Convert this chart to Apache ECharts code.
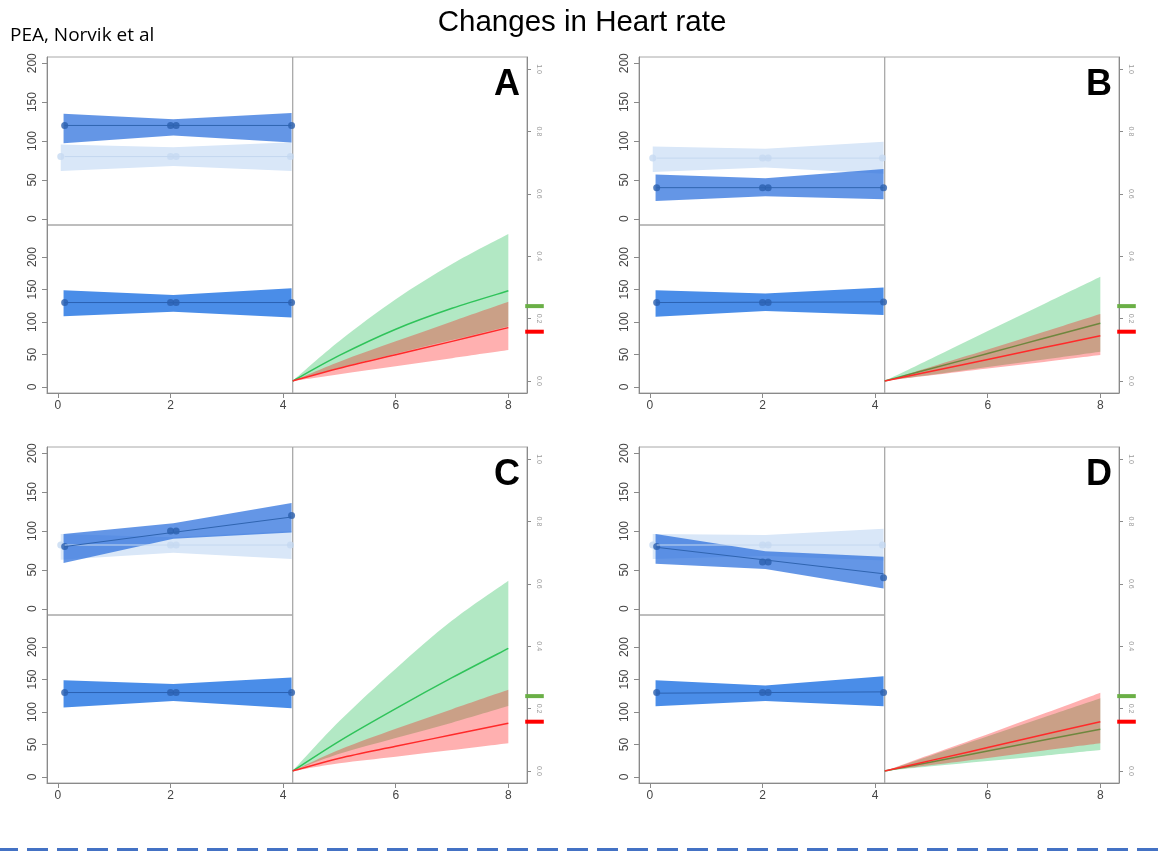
<!DOCTYPE html>
<html><head><meta charset="utf-8">
<script src="https://cdn.jsdelivr.net/npm/echarts@6/dist/echarts.min.js"></script>
<style>html,body{margin:0;padding:0;background:#fff}#c{width:1161px;height:852px}</style>
</head><body><div id="c"></div>
<script>
// ---------------- DATA ----------------
const panelLabels = ['A', 'B', 'C', 'D'];
const bottomXTicksLeft = [0, 2, 4];
const bottomXTicksRight = [6, 8];
const leftYTicks = [0, 50, 100, 150, 200];
const rightYTicks = [0, 0.2, 0.4, 0.6, 0.8, 1.0];

// left sub-panels: band vertices (left, middle, right), dots and fitted lines
const darkBandX = [0.1, 2.05, 4.15];
const lightBandX = [0.05, 2.05, 4.15];
const darkDotX = [0.12, 2.0, 2.1, 4.15];
const lightDotX = [0.05, 2.0, 2.1, 4.13];
const lineX = [0.12, 4.15];

const topDarkUpper = [[135, 128, 136], [57, 52, 64], [96, 110, 136], [96, 74, 67]];
const topDarkLower = [[97, 107, 98], [23, 29, 25], [59, 90, 98], [58, 51, 26]];
const topDarkLine = [[120, 120], [40, 40], [80, 118], [79, 45]];
const topDarkDots = [[120, 120, 120, 120], [40, 40, 40, 40], [80, 100, 100, 120], [80, 60, 60, 40]];

const topLightUpper = [[95.5, 92, 98.5], [93, 90, 99], [96, 92, 100], [96, 95, 103]];
const topLightLower = [[61.5, 68, 61.5], [60, 66, 58], [63, 72, 64], [64, 68, 62]];
const topLightLine = [[80, 80], [78, 78], [82, 82], [82, 82]];
const topLightDots = [[80, 80, 80, 80], [78, 78, 78, 78], [82, 82, 82, 82], [82, 82, 82, 82]];

const bottomUpper = [[149, 141.5, 152], [149, 144, 153], [149, 143, 153], [149, 141, 155]];
const bottomLower = [[109, 116, 107], [108, 117, 111], [107, 117, 106], [109, 117, 109]];
const bottomLine = [[130, 130], [130, 131], [130, 130], [129, 131]];
const bottomDots = [[130, 130, 130, 130], [130, 130, 130, 131], [130, 130, 130, 130], [130, 130, 130, 130]];

// right sub-panels: predicted curves
const curveX = [4.17, 5, 6, 7, 8];
const greenLine  = [[0, 0.082, 0.166, 0.233, 0.289], [0, 0.040, 0.088, 0.137, 0.185], [0, 0.096, 0.200, 0.299, 0.393], [0, 0.029, 0.064, 0.099, 0.134]];
const greenUpper = [[0, 0.128, 0.262, 0.375, 0.471], [0, 0.072, 0.160, 0.247, 0.334], [0, 0.160, 0.328, 0.482, 0.610], [0, 0.050, 0.111, 0.172, 0.233]];
const greenLower = [[0, 0.042, 0.087, 0.131, 0.175], [0, 0.020, 0.045, 0.069, 0.094], [0, 0.055, 0.106, 0.155, 0.208], [0, 0.015, 0.032, 0.049, 0.067]];
const redLine    = [[0, 0.041, 0.084, 0.127, 0.171], [0, 0.031, 0.069, 0.107, 0.145], [0, 0.041, 0.079, 0.116, 0.153], [0, 0.034, 0.075, 0.117, 0.158]];
const redUpper   = [[0, 0.062, 0.127, 0.191, 0.254], [0, 0.046, 0.101, 0.158, 0.215], [0, 0.068, 0.135, 0.198, 0.260], [0, 0.054, 0.118, 0.184, 0.251]];
const redLower   = [[0, 0.022, 0.047, 0.073, 0.099], [0, 0.018, 0.040, 0.061, 0.083], [0, 0.025, 0.046, 0.067, 0.089], [0, 0.019, 0.042, 0.066, 0.089]];
const greenMark = 0.24;
const redMark = 0.158;

// ---------------- LAYOUT / STYLE ----------------
const origins = [[47, 57], [639, 57], [47, 447], [639, 447]];
const PW = 480, PH = 336, LW = 245.7, TH = 168;
const FONT = '"Liberation Sans", Arial, sans-serif';
const C = {
  border: '#a8a8a8', axis: '#8a8a8a', label: '#444',
  darkBand: 'rgba(40,110,220,0.72)', darkLine: '#2f64b0', darkDot: '#2a5fae',
  lightBand: '#d9e7f8', lightLine: '#c4d8f0', lightDot: '#c6daf1',
  bottomBand: '#4a8de8', bottomLine: '#2b62b2', bottomDot: '#2a5fae',
  greenBand: 'rgba(0,178,58,0.30)', greenLine: '#2fc35a',
  redBand: 'rgba(255,0,0,0.31)', redLine: '#ff2a2a',
  greenMark: '#6aaf46', redMark: '#ff0000'
};

const grids = [], xAxes = [], yAxes = [], series = [], graphics = [];

// Catmull-Rom -> cubic Bezier path through pixel points (rendering only)
function curveThrough(pts, moveFirst) {
  let d = moveFirst ? 'M' + pts[0][0] + ',' + pts[0][1] : 'L' + pts[0][0] + ',' + pts[0][1];
  for (let i = 0; i < pts.length - 1; i++) {
    const p0 = pts[Math.max(i - 1, 0)], p1 = pts[i], p2 = pts[i + 1], p3 = pts[Math.min(i + 2, pts.length - 1)];
    const c1 = [p1[0] + (p2[0] - p0[0]) / 6, p1[1] + (p2[1] - p0[1]) / 6];
    const c2 = [p2[0] - (p3[0] - p1[0]) / 6, p2[1] - (p3[1] - p1[1]) / 6];
    d += 'C' + c1[0] + ',' + c1[1] + ' ' + c2[0] + ',' + c2[1] + ' ' + p2[0] + ',' + p2[1];
  }
  return d;
}

function band(gi, xs, up, lo, color) {
  return {
    type: 'custom', xAxisIndex: gi, yAxisIndex: gi, silent: true, clip: false,
    data: [[xs[1], lo[1]]],
    renderItem: (params, api) => {
      const pts = [];
      xs.forEach((x, i) => pts.push(api.coord([x, up[i]])));
      for (let i = xs.length - 1; i >= 0; i--) pts.push(api.coord([xs[i], lo[i]]));
      return { type: 'polygon', shape: { points: pts }, style: { fill: color } };
    }
  };
}
function smoothBand(gi, xs, up, lo, color) {
  return {
    type: 'custom', xAxisIndex: gi, yAxisIndex: gi, silent: true, clip: false,
    data: [[xs[2], lo[2]]],
    renderItem: (params, api) => {
      const u = xs.map((x, i) => api.coord([x, up[i]]));
      const l = xs.map((x, i) => api.coord([x, lo[i]])).reverse();
      const d = curveThrough(u, true) + curveThrough(l, false) + 'Z';
      return { type: 'path', shape: { pathData: d }, style: { fill: color, stroke: null } };
    }
  };
}
function smoothLine(gi, xs, ys, color, width) {
  return {
    type: 'custom', xAxisIndex: gi, yAxisIndex: gi, silent: true, clip: false,
    data: [[xs[2], ys[2]]],
    renderItem: (params, api) => {
      const p = xs.map((x, i) => api.coord([x, ys[i]]));
      return { type: 'path', shape: { pathData: curveThrough(p, true) }, style: { fill: null, stroke: color, lineWidth: width } };
    }
  };
}
function line(gi, xs, ys, color, width) {
  return {
    type: 'line', xAxisIndex: gi, yAxisIndex: gi, silent: true, symbol: 'none', clip: false,
    data: xs.map((x, i) => [x, ys[i]]), lineStyle: { color: color, width: width }
  };
}
function dots(gi, xs, ys, color) {
  return {
    type: 'scatter', xAxisIndex: gi, yAxisIndex: gi, silent: true, clip: false,
    symbolSize: 7, itemStyle: { color: color },
    data: xs.map((x, i) => [x, ys[i]])
  };
}
function mark(gi, val, color) {
  return {
    type: 'custom', xAxisIndex: gi, yAxisIndex: gi, silent: true, clip: false,
    data: [[8, val]],
    renderItem: (params, api) => {
      const a = api.coord([8.3, val]), b = api.coord([8.63, val]);
      return { type: 'line', shape: { x1: a[0], y1: a[1], x2: b[0], y2: b[1] }, style: { stroke: color, lineWidth: 4 } };
    }
  };
}

const leftMin = 4.17 - LW / 56.3;
const rightMax = 4.17 + (PW - LW) / 56.3;

origins.forEach(([ox, oy], p) => {
  const g0 = 3 * p, g1 = g0 + 1, g2 = g0 + 2;
  const gridBase = { show: true, borderColor: C.border, borderWidth: 1, backgroundColor: 'transparent', containLabel: false, outerBoundsMode: 'none' };
  grids.push(Object.assign({ left: ox, top: oy, width: LW, height: TH }, gridBase));
  grids.push(Object.assign({ left: ox, top: oy + TH, width: LW, height: PH - TH }, gridBase));
  grids.push(Object.assign({ left: ox + LW, top: oy, width: PW - LW, height: PH }, gridBase));

  // x axes
  xAxes.push({ type: 'value', gridIndex: g0, min: leftMin, max: 4.17, show: false, splitLine: { show: false } });
  const xBase = {
    type: 'value', splitLine: { show: false }, position: 'bottom',
    axisLine: { show: true, onZero: false, lineStyle: { color: C.axis } },
    axisLabel: { fontSize: 12, color: C.label, fontFamily: FONT, margin: 7 }
  };
  xAxes.push(Object.assign({}, xBase, {
    gridIndex: g1, min: leftMin, max: 4.17,
    axisTick: { show: true, length: 5, lineStyle: { color: C.axis }, customValues: bottomXTicksLeft },
    axisLabel: Object.assign({}, xBase.axisLabel, { customValues: bottomXTicksLeft })
  }));
  xAxes.push(Object.assign({}, xBase, {
    gridIndex: g2, min: 4.17, max: rightMax,
    axisTick: { show: true, length: 5, lineStyle: { color: C.axis }, customValues: bottomXTicksRight },
    axisLabel: Object.assign({}, xBase.axisLabel, { customValues: bottomXTicksRight })
  }));

  // y axes
  const yLeft = (gi, min, max) => ({
    type: 'value', gridIndex: gi, min: min, max: max, splitLine: { show: false }, position: 'left',
    axisLine: { show: true, onZero: false, lineStyle: { color: C.axis } },
    axisTick: { show: true, length: 5, lineStyle: { color: C.axis }, customValues: leftYTicks },
    axisLabel: { customValues: leftYTicks, rotate: 90, fontSize: 12, color: C.label, fontFamily: FONT, margin: 8 }
  });
  yAxes.push(yLeft(g0, -8, 208));
  yAxes.push(yLeft(g1, -9.2, 249.3));
  yAxes.push({
    type: 'value', gridIndex: g2, position: 'right', min: -0.0385, max: 1.0385, splitLine: { show: false },
    axisLine: { show: true, onZero: false, lineStyle: { color: C.axis } },
    axisTick: { show: true, length: 4, lineStyle: { color: C.axis }, customValues: rightYTicks },
    axisLabel: { customValues: rightYTicks, rotate: -90, fontSize: 7, color: '#9a9a9a', fontFamily: FONT, margin: 8,
      formatter: v => v.toFixed(1) }
  });

  // top-left
  series.push(band(g0, lightBandX, topLightUpper[p], topLightLower[p], C.lightBand));
  series.push(line(g0, lineX, topLightLine[p], C.lightLine, 1));
  series.push(dots(g0, lightDotX, topLightDots[p], C.lightDot));
  series.push(band(g0, darkBandX, topDarkUpper[p], topDarkLower[p], C.darkBand));
  series.push(line(g0, lineX, topDarkLine[p], C.darkLine, 1));
  series.push(dots(g0, darkDotX, topDarkDots[p], C.darkDot));
  // bottom-left
  series.push(band(g1, darkBandX, bottomUpper[p], bottomLower[p], C.bottomBand));
  series.push(line(g1, lineX, bottomLine[p], C.bottomLine, 1));
  series.push(dots(g1, darkDotX, bottomDots[p], C.bottomDot));
  // right
  series.push(smoothBand(g2, curveX, greenUpper[p], greenLower[p], C.greenBand));
  series.push(smoothLine(g2, curveX, greenLine[p], C.greenLine, 1.5));
  series.push(smoothBand(g2, curveX, redUpper[p], redLower[p], C.redBand));
  series.push(smoothLine(g2, curveX, redLine[p], C.redLine, 1.5));
  series.push(mark(g2, greenMark, C.greenMark));
  series.push(mark(g2, redMark, C.redMark));

  graphics.push({
    type: 'text', x: ox + PW - 7, y: oy + 28,
    style: { text: panelLabels[p], font: 'bold 36px ' + FONT, fill: '#000', align: 'right', verticalAlign: 'middle' }
  });
});

graphics.push({
  type: 'text', x: 582, y: 23,
  style: { text: 'Changes in Heart rate', font: '29.5px ' + FONT, fill: '#000', align: 'center', verticalAlign: 'middle' }
});
graphics.push({
  type: 'text', x: 10, y: 36,
  style: { text: 'PEA, Norvik et al', font: '19px "Open Sans", sans-serif', fill: '#000', align: 'left', verticalAlign: 'middle' }
});
graphics.push({
  type: 'line', shape: { x1: -3, y1: 849.5, x2: 1165, y2: 849.5 },
  style: { stroke: '#4472c4', lineWidth: 3, lineDash: [21, 9] }
});

const chart = echarts.init(document.getElementById('c'), null, { renderer: 'canvas' });
chart.setOption({
  animation: false,
  backgroundColor: '#fff',
  grid: grids, xAxis: xAxes, yAxis: yAxes, series: series, graphic: graphics
});
</script></body></html>
